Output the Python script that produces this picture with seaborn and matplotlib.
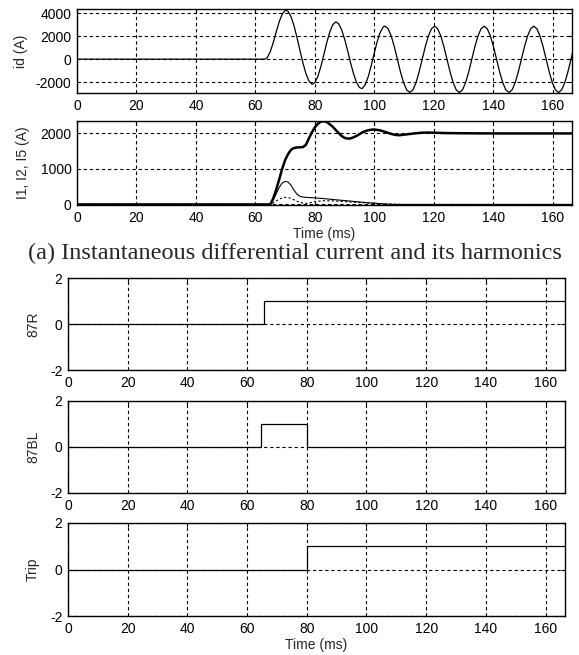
import matplotlib
matplotlib.use("Agg")
import matplotlib.pyplot as plt
import seaborn as sns
import numpy as np

sns.set_style("white")
plt.rcParams['font.family'] = ['Liberation Sans', 'DejaVu Sans']
plt.rcParams['axes.unicode_minus'] = False

# ---------------- data ----------------
id_t = [0, 63.2, 64, 65, 66, 67, 68, 69, 70, 70.3,
        71, 72, 73, 74, 75, 76, 77, 78, 79, 79.2,
        80, 81, 82, 83, 84, 85, 86, 87, 87.1,
        88, 89, 90, 91, 92, 93, 94, 95, 95.7,
        96, 97, 98, 99, 100, 101, 102, 103, 103.6,
        104.64, 105.69, 106.73, 107.77, 108.81, 109.86, 110.90, 111.94,
        112.98, 114.03, 115.07, 116.11, 117.15, 118.20, 119.24, 120.28,
        121.32, 122.37, 123.41, 124.45, 125.49, 126.54, 127.58, 128.62,
        129.66, 130.71, 131.75, 132.79, 133.83, 134.88, 135.92, 136.96,
        138.00, 139.05, 140.09, 141.13, 142.17, 143.22, 144.26, 145.30,
        146.34, 147.39, 148.43, 149.47, 150.51, 151.56, 152.60, 153.64,
        154.68, 155.73, 156.77, 157.81, 158.85, 159.90, 160.94, 161.98,
        163.02, 164.07, 165.11, 166.15, 167.19]
id_v = [0, 0, 132, 641, 1433, 2364, 3248, 3917, 4241, 4260,
        4163, 3697, 2901, 1884, 757, -335, -1259, -1897, -2172, -2180,
        -2044, -1513, -668, 367, 1430, 2348, 2985, 3238, 3240,
        3083, 2570, 1761, 763, -292, -1258, -2018, -2464, -2560,
        -2541, -2204, -1499, -536, 538, 1550, 2347, 2804, 2880,
        2650, 2025, 1089, -15, -1119, -2055, -2680, -2900,
        -2680, -2055, -1119, -15, 1089, 2025, 2650, 2870,
        2650, 2025, 1089, -15, -1119, -2055, -2680, -2900,
        -2680, -2055, -1119, -15, 1089, 2025, 2650, 2870,
        2650, 2025, 1089, -15, -1119, -2055, -2680, -2900,
        -2680, -2055, -1119, -15, 1089, 2025, 2650, 2870,
        2650, 2025, 1089, -15, -1119, -2055, -2680, -2900,
        -2680, -2055, -1119, -15, 1089]

i1_t = [0, 65, 66, 67, 68, 69, 70, 71, 72, 73, 74, 75, 76, 77, 78, 79, 80,
        81, 82, 83, 84, 85, 86, 87, 88, 89, 90, 91, 92, 93, 94, 95, 96, 97,
        98, 99, 100, 101, 102, 103, 104, 105, 106, 107, 108, 109, 110, 112,
        114, 116, 118, 120, 124, 130, 140, 150, 166.5]
i1_v = [0, 0, 170, 420, 700, 1000, 1250, 1420, 1540, 1590, 1605, 1610, 1615,
        1680, 1860, 2030, 2170, 2270, 2330, 2346, 2320, 2260, 2190, 2100,
        2010, 1930, 1875, 1855, 1860, 1890, 1930, 1980, 2030, 2065, 2090,
        2105, 2110, 2100, 2085, 2060, 2035, 2005, 1980, 1960, 1950, 1955,
        1965, 1985, 2005, 2020, 2025, 2020, 2010, 2005, 2000, 2000, 2000]

i2_t = [0, 65, 66, 67, 68, 69, 70, 71, 72, 73, 74, 75, 76, 77, 78, 80, 83,
        86, 90, 95, 100, 104, 108, 166.5]
i2_v = [0, 0, 120, 300, 480, 600, 650, 630, 540, 400, 290, 230, 210, 200,
        195, 185, 165, 140, 110, 70, 35, 10, 0, 0]

i5_t = [0, 65, 66, 67, 68, 69, 70, 71, 72, 73, 74, 75, 76, 77, 78, 79, 80,
        82, 84, 86, 88, 91, 95, 100, 105, 110, 166.5]
i5_v = [0, 0, 40, 100, 150, 185, 200, 195, 170, 130, 90, 60, 40, 30, 40,
        60, 80, 100, 105, 100, 90, 75, 55, 30, 10, 0, 0]

r87_t = [0, 65.5, 166.5]
r87_v = [0, 1, 1]
bl87_t = [0, 64.5, 80.2, 166.5]
bl87_v = [0, 1, 0, 0]
trip_t = [0, 80.2, 166.5]
trip_v = [0, 1, 1]

x_ticks = [0, 20, 40, 60, 80, 100, 120, 140, 160]
ylab = ["id (A)", "I1, I2, I5 (A)", "87R", "87BL", "Trip"]
caption = "(a) Instantaneous differential current and its harmonics"

# ---------------- figure ----------------
W, H = 579, 655
fig = plt.figure(figsize=(W / 100, H / 100), dpi=100)


def add(l, t, r, b):
    return fig.add_axes([l / W, 1 - b / H, (r - l) / W, (b - t) / H])


ax1 = add(77, 9, 572, 93)
ax2 = add(77, 121, 572, 205)
ax3 = add(68, 278, 565, 370)
ax4 = add(68, 401, 565, 493)
ax5 = add(68, 523, 565, 616)

FS = 10
lw = 0.9

sns.lineplot(x=id_t, y=id_v, ax=ax1, color='k', linewidth=lw,
             estimator=None, sort=False)
sns.lineplot(x=i1_t, y=i1_v, ax=ax2, color='k', linewidth=1.8,
             estimator=None, sort=False)
sns.lineplot(x=i2_t, y=i2_v, ax=ax2, color='k', linewidth=0.8,
             estimator=None, sort=False)
sns.lineplot(x=i5_t, y=i5_v, ax=ax2, color='k', linewidth=0.8,
             linestyle=(0, (2, 2)), estimator=None, sort=False)
for ax, t, v in [(ax3, r87_t, r87_v), (ax4, bl87_t, bl87_v),
                 (ax5, trip_t, trip_v)]:
    sns.lineplot(x=t, y=v, ax=ax, color='k', linewidth=lw,
                 drawstyle='steps-post', estimator=None, sort=False)

ax1.set_ylim(-2950, 4370)
ax1.set_yticks([-2000, 0, 2000, 4000])
ax2.set_ylim(-15, 2350)
ax2.set_yticks([0, 1000, 2000])
for ax in (ax3, ax4, ax5):
    ax.set_ylim(-2, 2)
    ax.set_yticks([-2, 0, 2])

for ax, lab in zip((ax1, ax2, ax3, ax4, ax5), ylab):
    ax.set_xlim(0, 166.5)
    ax.set_xticks(x_ticks)
    ax.grid(True, color='k', linestyle=(0, (3, 2.5)), linewidth=0.8)
    ax.tick_params(direction='in', length=3, top=True, right=True,
                   labelsize=FS, pad=4, colors='k')
    for s in ax.spines.values():
        s.set_color('k')
        s.set_linewidth(1.0)
    ax.set_ylabel(lab, fontsize=FS)
    ax.set_xlabel("")

ax1.yaxis.set_label_coords(-0.099, 0.5)
ax2.yaxis.set_label_coords(-0.095, 0.5)
for ax in (ax3, ax4, ax5):
    ax.yaxis.set_label_coords(-0.056, 0.5)

ax2.set_xlabel("Time (ms)", fontsize=FS, labelpad=2)
ax5.set_xlabel("Time (ms)", fontsize=FS, labelpad=2)

fig.text(295 / W, 1 - 253 / H, caption, ha='center', va='center',
         family=['Liberation Serif', 'DejaVu Serif'], fontsize=17.5)

fig.savefig("out.png", dpi=100)
